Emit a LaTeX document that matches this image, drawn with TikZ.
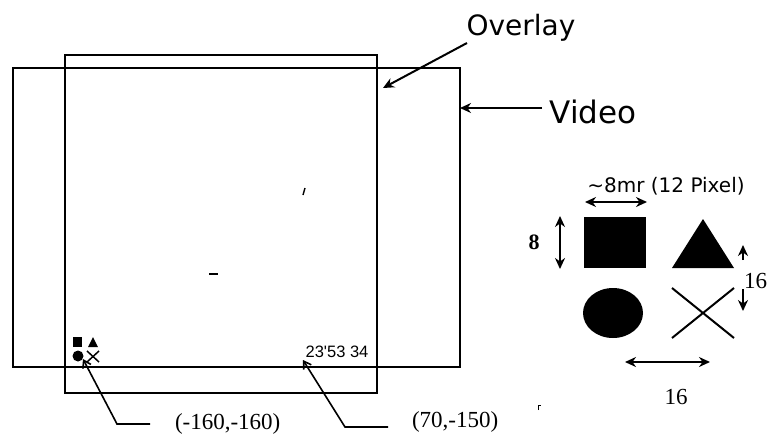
\documentclass[tikz,border=0pt]{standalone}
\usepackage{fontspec}
\setmainfont{Liberation Serif}
\newfontfamily\labelsans{DejaVu Sans}
\newfontfamily\arialfont{Liberation Sans}
\usetikzlibrary{arrows.meta}
\begin{document}
\begin{tikzpicture}[x=1pt,y=-1pt, line width=2pt,
  tip/.style={-{Stealth[length=11pt,width=10pt]}},
  dtip/.style={{Stealth[length=11pt,width=10pt]}-{Stealth[length=11pt,width=10pt]}},
  lead/.style={line width=1.6pt,{Straight Barb[length=7pt,width=9pt]}-},
  bigsans/.style={font=\labelsans\fontsize{28}{30}\selectfont, inner sep=0pt},
  smallsans/.style={font=\labelsans\fontsize{20}{22}\selectfont, inner sep=0pt},
  serifl/.style={font=\fontsize{23}{25}\selectfont, inner sep=0pt},
]
\useasboundingbox (0,0) rectangle (769,437);
% frames
\draw (65,55) rectangle (377,393);
\draw (13,68) rectangle (460,367);
% labels with arrows
\node[bigsans] (ovl) at (521,28) {Overlay};
\coordinate (ovS) at (467,43);
\coordinate (ovA) at (383,88);
\draw[tip] (ovS) -- (ovA);
\node[bigsans, font=\labelsans\fontsize{31}{33}\selectfont] (vid) at (593,112) {Video};
\coordinate (vidS) at (542,108);
\coordinate (vidA) at (460,108);
\draw[tip] (vidS) -- (vidA);
% size legend
\node[smallsans] (wlab) at (666,186) {\textasciitilde8mr (12 Pixel)};
\coordinate (w1) at (585,202); \coordinate (w2) at (647,202);
\draw[dtip] (w1) -- (w2);
\node[font=\bfseries\fontsize{22}{24}\selectfont, inner sep=0pt] (eight) at (534,242) {8};
\coordinate (h1) at (560,216); \coordinate (h2) at (560,269);
\draw[dtip] (h1) -- (h2);
\fill (584,217) rectangle (646,268);
\fill (672,268) -- (703,219) -- (734,268) -- cycle;
\fill (613,313) ellipse [x radius=30, y radius=25];
\draw (672,288) -- (734,338) (672,338) -- (734,288);
\coordinate (u1) at (743,260); \coordinate (u2) at (743,245);
\draw[tip] (u1) -- (u2);
\coordinate (d1) at (743,289); \coordinate (d2) at (743,311);
\draw[tip] (d1) -- (d2);
\node[serifl, anchor=east] (sixa) at (768,281) {16};
\coordinate (b1) at (625,362); \coordinate (b2) at (710,362);
\draw[dtip] (b1) -- (b2);
\node[serifl] (sixb) at (676,397) {16};
% small symbols in overlay
\fill (73,337) rectangle (82,347);
\fill (88,347) -- (93,337) -- (98,347) -- cycle;
\fill (78,356) circle (5.5);
\draw[line width=1.5pt] (87,351) -- (99,362) (87,362) -- (99,351);
\node[font=\arialfont\fontsize{16.5}{18}\selectfont, inner sep=0pt] (time) at (337,352) {23'53 34};
% leaders
\coordinate (p1) at (83,359); \coordinate (k1) at (117,424); \coordinate (e1) at (150,424);
\draw[lead] (p1) -- (k1) -- (e1);
\node[serifl, anchor=west] (c1) at (174,424) {(-160,-160)};
\coordinate (p2) at (303,360); \coordinate (k2) at (345,427); \coordinate (e2) at (388,427);
\draw[lead] (p2) -- (k2) -- (e2);
\node[serifl, anchor=west] (c2) at (411,422) {(70,-150)};
% small marks
\draw[line width=1.6pt] (209,274) -- (218,274);
\draw[line width=1.4pt] (305,188) -- (303,195);
\draw[line width=1pt] (538,410) -- (538,405) -- (541,405);
\end{tikzpicture}
\end{document}
